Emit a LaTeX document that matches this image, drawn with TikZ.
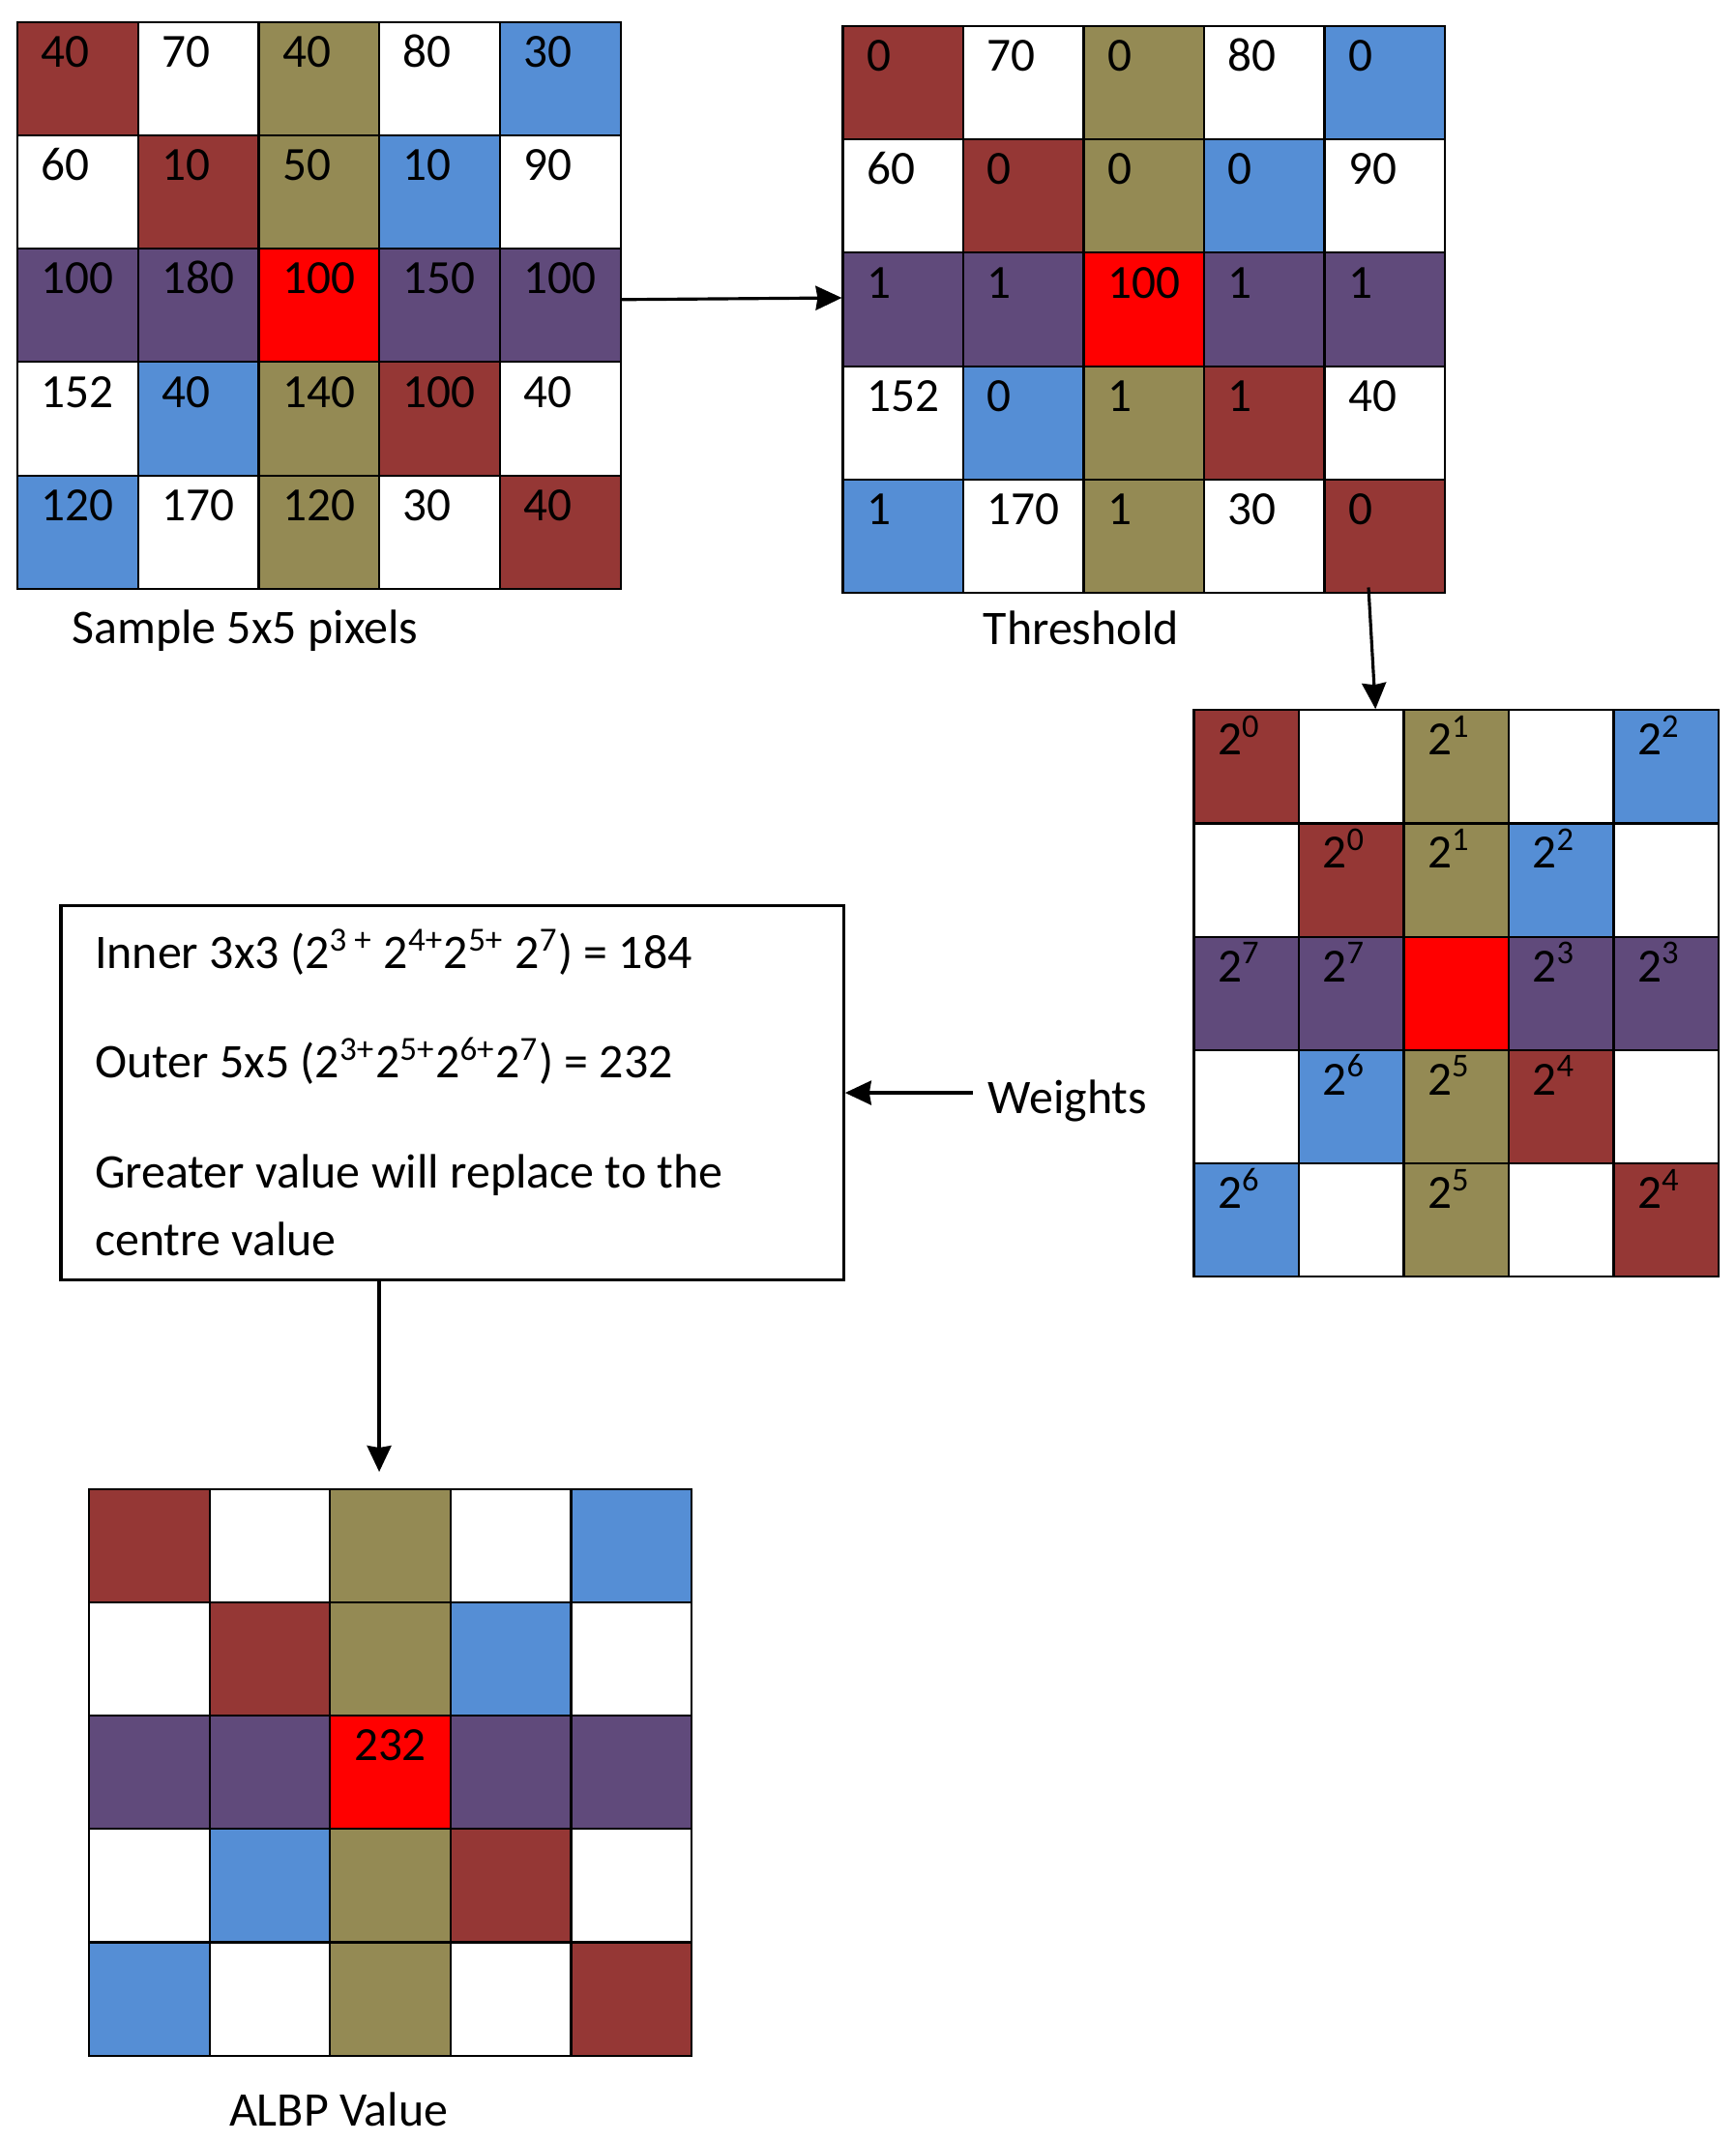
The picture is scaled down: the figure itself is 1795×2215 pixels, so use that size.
\documentclass[tikz,border=0pt]{standalone}
\usepackage{fontspec}
\setmainfont{Carlito}
\usepackage{xcolor}
\usetikzlibrary{positioning,arrows.meta}

\definecolor{cR}{HTML}{953735}
\definecolor{cW}{HTML}{FFFFFF}
\definecolor{cO}{HTML}{948A54}
\definecolor{cB}{HTML}{558ED5}
\definecolor{cP}{HTML}{604A7B}
\definecolor{cX}{HTML}{FF0000}

\newcommand{\pw}[1]{2\textsuperscript{#1}}
\newcommand{\pixgrid}[4]{%
	\foreach \pat [count=\rw from 0] in {{R,W,O,W,B},{W,R,O,B,W},{P,P,X,P,P},{W,B,O,R,W},{B,W,O,W,R}}
		\foreach \pc [count=\cl from 0] in \pat
			\node[cell, fill=c\pc, minimum width=#4*0.01cm] (#1-\rw-\cl) at ({#2+\cl*#4},{#3+\rw*117.2}) {};
}
\newcommand{\pixvals}[2]{%
	\foreach \vrow [count=\rw from 0] in {#2}
		\foreach \v [count=\cl from 0] in \vrow
			\node[val] (#1-\rw-\cl-v) at ([xshift=0.25cm,yshift=-0.478cm]#1-\rw-\cl.north west) {\v};
}

\begin{document}
\begin{tikzpicture}[
	x=0.01cm, y=-0.01cm,
	>={Stealth[length=0.27cm,width=0.25cm,inset=0.02cm]},
	cell/.style={
		rectangle,
		draw,
		line width=0.6pt,
		anchor=north west,
		inner sep=0,
		minimum height=1.172cm
	},
	val/.style={anchor=base west, inner sep=0, font=\fontsize{14pt}{16pt}\selectfont},
	caption/.style={anchor=base west, inner sep=0, font=\fontsize{14.2pt}{17pt}\selectfont},
	flow/.style={->, line width=0.9pt}
	]
	\useasboundingbox (0,0) rectangle (1795,2215);
	
	\pixgrid{s}{17}{21.7}{124.7}
	\pixgrid{t}{870.4}{25.9}{124.5}
	\pixgrid{w}{1233.4}{733.2}{108.5}
	\pixgrid{a}{91.25}{1538.6}{124.55}
	
	\pixvals{s}{{40,70,40,80,30},{60,10,50,10,90},{100,180,100,150,100},{152,40,140,100,40},{120,170,120,30,40}}
	\pixvals{t}{{0,70,0,80,0},{60,0,0,0,90},{1,1,100,1,1},{152,0,1,1,40},{1,170,1,30,0}}
	\foreach \rw/\cl/\e in {0/0/0,0/2/1,0/4/2,1/1/0,1/2/1,1/3/2,2/0/7,2/1/7,2/3/3,2/4/3,3/1/6,3/2/5,3/3/4,4/0/6,4/2/5,4/4/4}
		\node[val] (w-\rw-\cl-v) at ([xshift=0.25cm,yshift=-0.475cm]w-\rw-\cl.north west) {\pw{\e}};
	\node[val] (a-2-2-v) at ([xshift=0.25cm,yshift=-0.475cm]a-2-2.north west) {232};
	
	\node[caption] (cap-s) at ([xshift=0.567cm,yshift=-0.555cm]s-4-0.south west) {Sample 5x5 pixels};
	\node[caption] (cap-t) at ([xshift=1.456cm,yshift=-0.524cm]t-4-0.south west) {Threshold};
	\node[caption] (cap-a) at ([xshift=1.45cm,yshift=-0.713cm]a-4-0.south west) {ALBP Value};
	
	\node[draw, line width=0.9pt, anchor=north west, inner sep=0, minimum width=8.088cm, minimum height=3.867cm] (box) at (61.4,935) {};
	\node[anchor=base west, inner sep=0, align=left, font=\fontsize{14.2pt}{19.9pt}\selectfont] (rule) at (97.4,1298) {Inner 3x3 (\pw{3 +} \pw{4+}\pw{5+} \pw{7}) = 184\\[12.3pt]
		Outer 5x5 (\pw{3+}\pw{5+}\pw{6+}\pw{7}) = 232\\[12.3pt]
		Greater value will replace to the\\
		centre value};
	\node[caption] (weights) at ([xshift=1.47cm,yshift=-0.216cm]box.east) {Weights};
	
	\draw[flow] ([yshift=0.06cm]s-2-4.east) -- ([yshift=0.12cm]t-2-0.west);
	\draw[flow] ([xshift=-0.167cm,yshift=0.066cm]t-4-4.south) -- ([xshift=0.25cm]w-0-1.north);
	\draw[flow] ([xshift=-0.15cm]weights.west |- box.east) -- (box.east);
	\draw[flow] ([xshift=-0.116cm]box.south -| a-0-2.north) -- ([xshift=-0.116cm,yshift=0.166cm]a-0-2.north);
\end{tikzpicture}
\end{document}
